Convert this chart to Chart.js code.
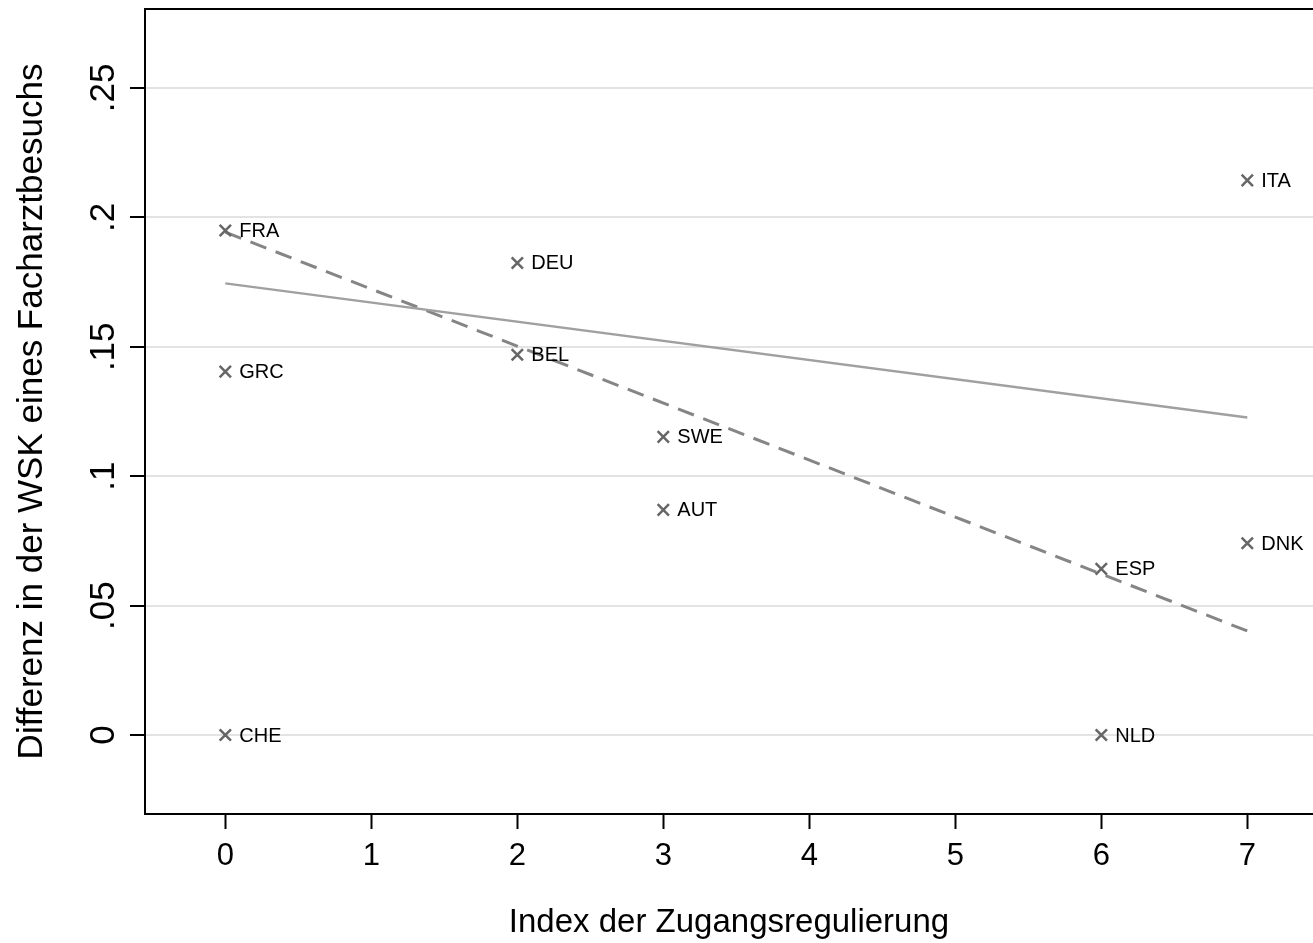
<!DOCTYPE html>
<html lang="de">
<head>
    <meta charset="UTF-8">
    <title>Zugangsregulierung</title>
    <script src="https://cdn.jsdelivr.net/npm/chart.js"></script>
    <style>
        body {
            margin: 0;
            background-color: #fff;
            overflow: hidden;
        }
        #wrap {
            width: 1313px;
            height: 943px;
        }
    </style>
</head>
<body>
    <div id="wrap">
        <canvas id="scatterChart" width="1313" height="943"></canvas>
    </div>

    <script>
        // Data
        const countries = ['FRA', 'ITA', 'DEU', 'BEL', 'GRC', 'SWE', 'AUT', 'DNK', 'ESP', 'CHE', 'NLD'];
        const indexValues = [0, 7, 2, 2, 0, 3, 3, 7, 6, 0, 6];
        const diffValues = [0.1949, 0.2143, 0.1824, 0.1469, 0.1404, 0.1152, 0.0870, 0.0741, 0.0642, 0, 0];

        // fitted lines (endpoints at x = 0 and x = 7)
        const fitX = [0, 7];
        const fitAllY = [0.1745, 0.1227];
        const fitDashedY = [0.1943, 0.0402];

        const xTicks = [0, 1, 2, 3, 4, 5, 6, 7];
        const yTicks = [0, 0.05, 0.1, 0.15, 0.2, 0.25];
        const yTickLabels = ['0', '.05', '.1', '.15', '.2', '.25'];

        const FONT = "'Liberation Sans', Arial, sans-serif";

        const toPoints = (xs, ys) => xs.map((x, i) => ({ x: x, y: ys[i] }));

        // country names next to the markers
        const pointLabels = {
            id: 'pointLabels',
            afterDatasetsDraw(chart) {
                const ctx = chart.ctx;
                const meta = chart.getDatasetMeta(0);
                ctx.save();
                ctx.font = '20px ' + FONT;
                ctx.fillStyle = '#000';
                ctx.textAlign = 'left';
                ctx.textBaseline = 'middle';
                meta.data.forEach((pt, i) => {
                    ctx.fillText(countries[i], pt.x + 14, pt.y + 1);
                });
                ctx.restore();
            }
        };

        // top frame line
        const frameTop = {
            id: 'frameTop',
            afterDraw(chart) {
                const { ctx, chartArea } = chart;
                ctx.save();
                ctx.strokeStyle = '#000';
                ctx.lineWidth = 2;
                ctx.beginPath();
                ctx.moveTo(chartArea.left, chartArea.top);
                ctx.lineTo(chartArea.right, chartArea.top);
                ctx.stroke();
                ctx.restore();
            }
        };

        new Chart(document.getElementById('scatterChart'), {
            type: 'scatter',
            data: {
                datasets: [
                    {
                        data: toPoints(indexValues, diffValues),
                        pointStyle: 'crossRot',
                        pointRadius: 8,
                        borderColor: '#666',
                        backgroundColor: '#666',
                        pointBorderWidth: 2.5,
                        showLine: false
                    },
                    {
                        data: toPoints(fitX, fitAllY),
                        showLine: true,
                        pointRadius: 0,
                        borderColor: '#a0a0a0',
                        borderWidth: 2.5
                    },
                    {
                        data: toPoints(fitX, fitDashedY),
                        showLine: true,
                        pointRadius: 0,
                        borderColor: '#858585',
                        borderWidth: 3,
                        borderDash: [17, 10]
                    }
                ]
            },
            options: {
                responsive: false,
                animation: false,
                layout: {
                    autoPadding: false,
                    padding: { top: 9, right: 0, left: 0, bottom: 0 }
                },
                plugins: {
                    legend: { display: false },
                    tooltip: { enabled: false }
                },
                scales: {
                    x: {
                        type: 'linear',
                        min: -0.55,
                        max: 7.45,
                        afterBuildTicks: axis => { axis.ticks = xTicks.map(v => ({ value: v })); },
                        afterFit: axis => {
                            axis.height = 129;
                            axis.paddingLeft = 0;
                            axis.paddingRight = 0;
                        },
                        grid: {
                            drawOnChartArea: false,
                            drawTicks: true,
                            tickLength: 15,
                            tickColor: '#000',
                            tickWidth: 2
                        },
                        border: { display: true, color: '#000', width: 2 },
                        ticks: {
                            color: '#000',
                            font: { family: FONT, size: 31 },
                            padding: 9,
                            maxRotation: 0
                        },
                        title: {
                            display: true,
                            text: 'Index der Zugangsregulierung',
                            color: '#000',
                            font: { family: FONT, size: 33 },
                            padding: { top: 0, bottom: 0 }
                        }
                    },
                    y: {
                        type: 'linear',
                        min: -0.0305,
                        max: 0.2805,
                        afterBuildTicks: axis => { axis.ticks = yTicks.map(v => ({ value: v })); },
                        afterFit: axis => {
                            axis.width = 145;
                            axis.paddingTop = 0;
                            axis.paddingBottom = 0;
                        },
                        grid: {
                            color: '#e3e3e3',
                            lineWidth: 2,
                            drawTicks: true,
                            tickLength: 15,
                            tickColor: '#000',
                            tickWidth: 2
                        },
                        border: { display: true, color: '#000', width: 2 },
                        ticks: {
                            color: '#000',
                            font: { family: FONT, size: 35 },
                            minRotation: 90,
                            maxRotation: 90,
                            crossAlign: 'center',
                            padding: 1,
                            callback: (value) => {
                                const i = yTicks.indexOf(value);
                                return i >= 0 ? yTickLabels[i] : '';
                            }
                        },
                        title: {
                            display: true,
                            text: 'Differenz in der WSK eines Facharztbesuchs',
                            color: '#000',
                            font: { family: FONT, size: 35 },
                            padding: { top: 11, bottom: 0 }
                        }
                    }
                }
            },
            plugins: [pointLabels, frameTop]
        });
    </script>
</body>
</html>
